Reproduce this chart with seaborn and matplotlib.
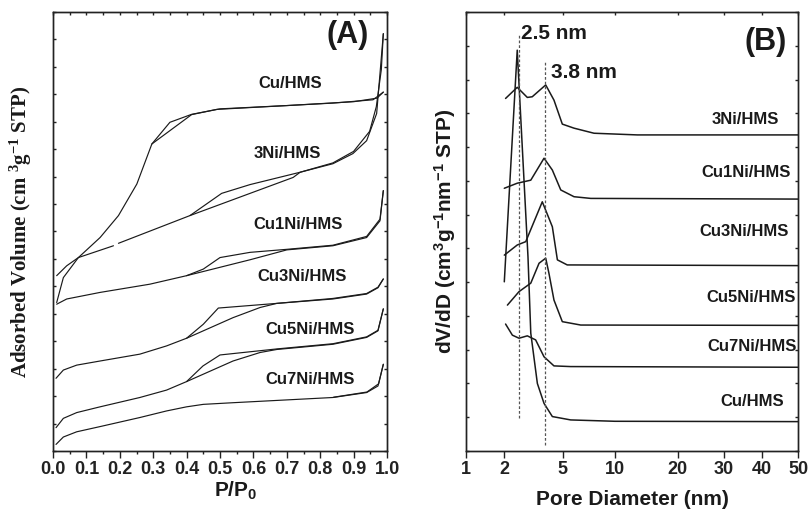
import matplotlib
matplotlib.use('Agg')
import matplotlib.pyplot as plt
import numpy as np
import pandas as pd
import seaborn as sns
from matplotlib.ticker import (FixedLocator, FormatStrFormatter, MultipleLocator,
                               NullLocator, StrMethodFormatter)

# %%
# (A) N2 isotherms, P/P0 vs stacked adsorbed volume (arbitrary offset units)
P_CU_ADS = [0.011, 0.031, 0.076, 0.141, 0.196, 0.251, 0.296, 0.415, 0.49, 0.64, 0.838, 0.958, 0.989]
V_CU_ADS = [5.41, 6.32, 7.05, 7.78, 8.58, 9.73, 11.19, 12.26, 12.45, 12.55, 12.68, 12.80, 13.08]
P_CU_DES = [0.989, 0.97, 0.90, 0.70, 0.50, 0.415, 0.350, 0.296]
V_CU_DES = [13.08, 12.86, 12.73, 12.59, 12.47, 12.27, 11.98, 11.19]

P_3NI_ADS_A = [0.011, 0.041, 0.076, 0.181]
V_3NI_ADS_A = [6.39, 6.75, 7.05, 7.48]
P_3NI_ADS_B = [0.196, 0.41, 0.59, 0.719, 0.740, 0.838, 0.898, 0.939, 0.969, 0.989]
V_3NI_ADS_B = [7.57, 8.58, 9.39, 9.97, 10.16, 10.47, 10.84, 11.31, 12.30, 15.21]
P_3NI_DES = [0.989, 0.983, 0.968, 0.948, 0.90, 0.838, 0.74, 0.59, 0.505, 0.41]
V_3NI_DES = [15.21, 13.9, 12.55, 11.65, 10.92, 10.50, 10.16, 9.71, 9.39, 8.58]

P_C1_ADS = [0.011, 0.041, 0.141, 0.290, 0.40, 0.59, 0.70, 0.838, 0.939, 0.979, 0.989]
V_C1_ADS = [5.35, 5.54, 5.78, 6.08, 6.39, 6.97, 7.33, 7.48, 7.78, 8.39, 9.49]
P_C1_DES = [0.989, 0.979, 0.939, 0.838, 0.70, 0.59, 0.50, 0.45, 0.40]
V_C1_DES = [9.49, 8.45, 7.82, 7.50, 7.35, 7.24, 7.05, 6.63, 6.39]

P_C3_ADS = [0.009, 0.031, 0.071, 0.141, 0.260, 0.340, 0.40, 0.539, 0.62, 0.67, 0.838, 0.939, 0.973, 0.989]
V_C3_ADS = [2.65, 2.95, 3.13, 3.28, 3.53, 3.83, 4.11, 4.86, 5.23, 5.38, 5.54, 5.72, 5.95, 6.27]
P_C3_DES = [0.989, 0.973, 0.939, 0.838, 0.67, 0.495, 0.45, 0.40]
V_C3_DES = [6.27, 5.97, 5.74, 5.56, 5.38, 5.21, 4.62, 4.11]

P_C5_ADS = [0.009, 0.031, 0.071, 0.141, 0.260, 0.340, 0.40, 0.539, 0.62, 0.67, 0.838, 0.939, 0.973, 0.989]
V_C5_ADS = [0.85, 1.19, 1.40, 1.61, 1.95, 2.22, 2.53, 3.28, 3.59, 3.70, 3.89, 4.14, 4.38, 5.18]
P_C5_DES = [0.989, 0.973, 0.939, 0.838, 0.67, 0.50, 0.449, 0.40]
V_C5_DES = [5.18, 4.40, 4.16, 3.91, 3.72, 3.50, 3.10, 2.53]

P_C7_ADS = [0.009, 0.031, 0.071, 0.141, 0.260, 0.340, 0.40, 0.45, 0.539, 0.838, 0.939, 0.973, 0.989]
V_C7_ADS = [0.24, 0.51, 0.70, 0.89, 1.22, 1.46, 1.61, 1.70, 1.76, 1.95, 2.13, 2.37, 3.16]
P_C7_DES = [0.989, 0.975, 0.94, 0.84]
V_C7_DES = [3.16, 2.45, 2.15, 1.96]

# (B) pore size distributions, stacked dV/dD (arbitrary offset units)
D_CU = [2.0, 2.45, 2.90, 3.03, 3.36, 3.73, 4.25, 5.56, 10, 50]
F_CU = [5.01, 11.87, 5.75, 3.49, 2.00, 1.41, 1.02, 0.92, 0.88, 0.87]
D_3NI = [2.04, 2.45, 2.87, 3.10, 3.83, 4.36, 4.97, 5.81, 7.57, 12.8, 50]
F_3NI = [10.44, 10.77, 10.47, 10.49, 10.84, 10.39, 9.68, 9.56, 9.41, 9.36, 9.36]
D_C1 = [2.0, 2.45, 3.03, 3.73, 4.25, 4.85, 5.81, 7.25, 50]
F_C1 = [7.78, 7.93, 8.02, 8.67, 8.32, 7.73, 7.53, 7.48, 7.46]
D_C3 = [2.0, 2.45, 2.80, 3.63, 4.25, 4.60, 5.31, 50]
F_C3 = [5.80, 6.10, 6.20, 7.38, 6.64, 5.66, 5.51, 5.49]
D_C5 = [2.10, 2.52, 3.03, 3.45, 3.83, 4.03, 4.36, 4.97, 6.35, 50]
F_C5 = [4.32, 4.72, 4.97, 5.56, 5.71, 5.26, 4.47, 3.83, 3.73, 3.72]
D_C7 = [2.04, 2.27, 2.52, 2.87, 3.27, 3.73, 4.36, 5.56, 50]
F_C7 = [3.76, 3.43, 3.34, 3.41, 3.29, 2.79, 2.52, 2.50, 2.48]

PEAK_D = [2.5, 3.8]
PEAK_TOP = [12.35, 11.52]
PEAK_BOTTOM = [0.98, 0.18]
PEAK_TEXT = ['2.5 nm', '3.8 nm']

# pore diameter axis of (B): tick values and where they sit along the axis (px)
D_TICKS = [1, 2, 5, 10, 20, 30, 40, 50]
D_TICK_SPOTS = np.array([0, 38.6, 97.0, 149.3, 212.0, 258.0, 296.3, 332.6]) / 332.6

# %%
iso_branches = {
    'Cu ads': (P_CU_ADS, V_CU_ADS), 'Cu des': (P_CU_DES, V_CU_DES),
    '3Ni ads a': (P_3NI_ADS_A, V_3NI_ADS_A), '3Ni ads b': (P_3NI_ADS_B, V_3NI_ADS_B),
    '3Ni des': (P_3NI_DES, V_3NI_DES),
    'Cu1Ni ads': (P_C1_ADS, V_C1_ADS), 'Cu1Ni des': (P_C1_DES, V_C1_DES),
    'Cu3Ni ads': (P_C3_ADS, V_C3_ADS), 'Cu3Ni des': (P_C3_DES, V_C3_DES),
    'Cu5Ni ads': (P_C5_ADS, V_C5_ADS), 'Cu5Ni des': (P_C5_DES, V_C5_DES),
    'Cu7Ni ads': (P_C7_ADS, V_C7_ADS), 'Cu7Ni des': (P_C7_DES, V_C7_DES),
}
iso = pd.concat(
    [pd.DataFrame({'p': p, 'v': v, 'branch': k}) for k, (p, v) in iso_branches.items()],
    ignore_index=True,
)

psd_curves = {
    'Cu/HMS': (D_CU, F_CU), '3Ni/HMS': (D_3NI, F_3NI), 'Cu1Ni/HMS': (D_C1, F_C1),
    'Cu3Ni/HMS': (D_C3, F_C3), 'Cu5Ni/HMS': (D_C5, F_C5), 'Cu7Ni/HMS': (D_C7, F_C7),
}
psd = pd.concat(
    [pd.DataFrame({'d': d, 'f': f, 'sample': k}) for k, (d, f) in psd_curves.items()],
    ignore_index=True,
)


def d_forward(d):
    d = np.clip(np.asarray(d, dtype=float), 1e-6, None)
    return np.interp(np.log(d), np.log(D_TICKS), D_TICK_SPOTS)


def d_inverse(s):
    return np.exp(np.interp(np.asarray(s, dtype=float), D_TICK_SPOTS, np.log(D_TICKS)))


# %%
sns.set_theme(style='ticks')
plt.rcParams.update({
    'font.family': ['Liberation Sans', 'DejaVu Sans'],
    'font.weight': 'bold',
    'axes.labelweight': 'bold',
    'mathtext.default': 'regular',
    'axes.linewidth': 1.0,
    'axes.edgecolor': '#222222',
    'xtick.color': '#222222',
    'ytick.color': '#222222',
    'text.color': '#1a1a1a',
    'axes.labelcolor': '#1a1a1a',
})
ink = '#1a1a1a'

fig = plt.figure(figsize=(8.08, 5.11), dpi=100)
ax1 = fig.add_axes([53 / 808, 1 - 451 / 511, 334 / 808, 439 / 511])
ax2 = fig.add_axes([465.7 / 808, 1 - 451 / 511, 332.6 / 808, 439 / 511])

# ---- panel A
sns.lineplot(data=iso, x='p', y='v', units='branch', estimator=None, sort=False,
             color=ink, linewidth=0.85, ax=ax1, legend=False)
ax1.set_xlim(0, 1)
ax1.set_ylim(0, 16)
ax1.xaxis.set_major_locator(MultipleLocator(0.1))
ax1.xaxis.set_minor_locator(MultipleLocator(0.05))
ax1.xaxis.set_major_formatter(FormatStrFormatter('%.1f'))
ax1.yaxis.set_major_locator(MultipleLocator(1))
ax1.tick_params(axis='x', which='major', direction='out', length=5, width=1, pad=2, labelsize=13)
ax1.tick_params(axis='x', which='minor', direction='out', length=2.5, width=1)
ax1.tick_params(axis='y', which='major', direction='in', left=True, right=True,
                length=2.5, width=1, labelleft=False)
ax1.set_xlabel('P/P$_{0}$', fontsize=15)
ax1.xaxis.set_label_coords(0.548, -0.065)
ax1.set_ylabel('Adsorbed Volume (cm $^{3}$g$^{-1}$ STP)', fontsize=15,
               family=['Liberation Serif', 'DejaVu Serif'], va='center')
ax1.yaxis.set_label_coords(-0.096, 0.5)

top1 = ax1.twiny()
top1.set_xlim(0, 1)
top1.xaxis.set_major_locator(MultipleLocator(0.05))
top1.tick_params(axis='x', direction='in', length=2.5, width=1, labeltop=False)

iso_labels = [('Cu/HMS', 0.71, 13.41), ('3Ni/HMS', 0.702, 10.84), ('Cu1Ni/HMS', 0.734, 8.25),
              ('Cu3Ni/HMS', 0.746, 6.35), ('Cu5Ni/HMS', 0.769, 4.43), ('Cu7Ni/HMS', 0.769, 2.61)]
for txt, x, y in iso_labels:
    ax1.text(x, y, txt, fontsize=12, ha='center', va='center')
ax1.text(0.883, 15.15, '(A)', fontsize=22, ha='center', va='center')

# ---- panel B
sns.lineplot(data=psd, x='d', y='f', units='sample', estimator=None, sort=False,
             color=ink, linewidth=1.1, ax=ax2, legend=False)
ax2.vlines(PEAK_D, PEAK_BOTTOM, PEAK_TOP, colors='#555555', linewidth=0.9,
           linestyles=(0, (2.2, 1.6)))
ax2.set_xscale('function', functions=(d_forward, d_inverse))
ax2.set_xlim(1, 50)
ax2.set_ylim(0, 13)
ax2.xaxis.set_major_locator(FixedLocator(D_TICKS))
ax2.xaxis.set_minor_locator(NullLocator())
ax2.xaxis.set_major_formatter(StrMethodFormatter('{x:.0f}'))
ax2.yaxis.set_major_locator(MultipleLocator(1))
ax2.tick_params(axis='x', which='major', direction='out', length=5, width=1, pad=2, labelsize=13)
ax2.tick_params(axis='y', which='major', direction='in', left=True, right=True,
                length=2.5, width=1, labelleft=False)
ax2.set_xlabel('Pore Diameter (nm)', fontsize=15)
ax2.xaxis.set_label_coords(0.5, -0.088)
ax2.set_ylabel('dV/dD (cm$^{3}$g$^{-1}$nm$^{-1}$ STP)', fontsize=15, va='center')
ax2.yaxis.set_label_coords(-0.062, 0.5)

top2 = ax2.twiny()
top2.set_xscale('function', functions=(d_forward, d_inverse))
top2.set_xlim(1, 50)
top2.xaxis.set_major_locator(FixedLocator(D_TICKS))
top2.xaxis.set_minor_locator(NullLocator())
top2.tick_params(axis='x', direction='in', length=2.5, width=1, labeltop=False)

ax2.text(2.6, 12.35, PEAK_TEXT[0], fontsize=15, ha='left', va='center')
ax2.text(4.15, 11.2, PEAK_TEXT[1], fontsize=15, ha='left', va='center')
psd_labels = [('3Ni/HMS', 35.4, 9.83), ('Cu1Ni/HMS', 35.4, 8.25), ('Cu3Ni/HMS', 35.0, 6.51),
              ('Cu5Ni/HMS', 36.8, 4.54), ('Cu7Ni/HMS', 37.2, 3.09), ('Cu/HMS', 37.2, 1.46)]
for txt, x, y in psd_labels:
    ax2.text(x, y, txt, fontsize=12, ha='center', va='center')
ax2.text(40.9, 12.12, '(B)', fontsize=22, ha='center', va='center')

fig.savefig('out.png', dpi=100)
